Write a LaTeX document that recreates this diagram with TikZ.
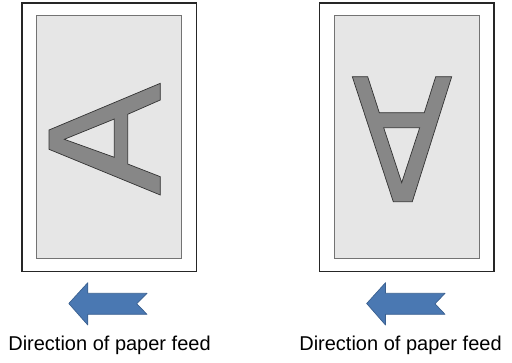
\documentclass[tikz,border=0pt]{standalone}
\usepackage{fontspec}
\setmainfont{Liberation Sans}
\definecolor{pagegray}{HTML}{E6E6E6}
\definecolor{glyphgray}{HTML}{878787}
\definecolor{arrowblue}{HTML}{4A78B2}
\definecolor{arrowedge}{HTML}{3A6090}
\begin{document}
\begin{tikzpicture}[x=1pt,y=-1pt,
  sheet/.style={draw=black!85,line width=1.3pt,fill=white},
  printarea/.style={draw=black!55,line width=0.8pt,fill=pagegray},
  glyph/.style={draw=black!80,line width=0.7pt,fill=glyphgray,even odd rule},
  feedarrow/.style={draw=arrowedge,line width=0.7pt,fill=arrowblue,line join=round},
  caption/.style={font=\fontsize{20}{24}\selectfont,anchor=base,inner sep=0pt}]
\useasboundingbox (0,0) rectangle (512,362);
% left sheet
\draw[sheet] (22,3) rectangle (196.5,271.5);
\draw[printarea] (36,15) rectangle (181,258);
\draw[glyph] (160.3,83.3) -- (160.3,100) -- (127.7,114.3) -- (127.7,164) -- (160.3,176.7) -- (160.3,195) -- (49,149.3) -- (49,130) -- cycle
  (114.3,119) -- (64.3,139.3) -- (114.3,157.3) -- cycle;
\draw[feedarrow] (68.8,303.5) -- (87.8,282.7) -- (87.8,293.3) -- (147,293.3) -- (136.7,303.8) -- (147,314.3) -- (87.8,314.3) -- (87.8,325) -- cycle;
\node[caption] (capL) at (109.5,350) {Direction of paper feed};
% right sheet
\draw[sheet] (319.5,3) rectangle (494,271.5);
\draw[printarea] (334,15) rectangle (479,258);
\draw[glyph] (352.3,76.7) -- (367.7,76.7) -- (379.3,112.7) -- (424.3,112.7) -- (435.7,76.7) -- (451.7,76.7) -- (412.3,201.7) -- (393.3,201.7) -- cycle
  (383.7,127.7) -- (419.7,127.7) -- (401.7,182.7) -- cycle;
\draw[feedarrow] (366.7,303.5) -- (385.5,282.7) -- (385.5,293.3) -- (445,293.3) -- (435,303.8) -- (445,314.3) -- (385.5,314.3) -- (385.5,325) -- cycle;
\node[caption] (capR) at (400.5,350) {Direction of paper feed};
\end{tikzpicture}
\end{document}
